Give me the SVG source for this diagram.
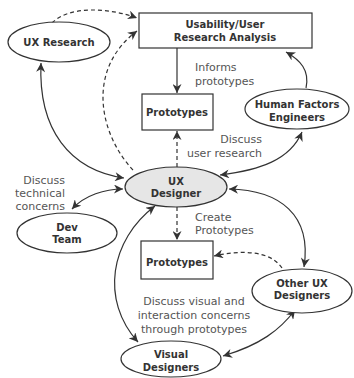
<svg xmlns="http://www.w3.org/2000/svg" width="354" height="378" viewBox="0 0 354 378">
  <defs>
    <marker id="arrow" viewBox="0 0 10 10" refX="10" refY="5" markerWidth="10" markerHeight="9" markerUnits="userSpaceOnUse" orient="auto-start-reverse">
      <path d="M0,0 L10,5 L0,10 L3,5 z" fill="#333"/>
    </marker>
  </defs>
  <style>
    .node { fill: #fff; stroke: #333; stroke-width: 1.2; }
    .focus { fill: #e6e6e6; }
    .title { font-family: "DejaVu Sans", Verdana, sans-serif; font-size: 10px; font-weight: bold; fill: #333; text-anchor: middle; }
    .note { font-family: "DejaVu Sans", Verdana, sans-serif; font-size: 11px; fill: #555; }
    .edge { fill: none; stroke: #333; stroke-width: 1.2; }
    .dash { stroke-dasharray: 4 3; }
  </style>
  <rect width="354" height="378" fill="#fff"/>

  <g id="connectors">
    <path class="edge dash" d="M52,23 C70,5 110,8 137,18" marker-end="url(#arrow)"/>
    <path class="edge dash" d="M133,170 C100,135 85,70 137,31" marker-end="url(#arrow)"/>
    <path class="edge" d="M177,48 L177,93" marker-end="url(#arrow)"/>
    <path class="edge" d="M306,88 C310,70 300,60 286,52" marker-end="url(#arrow)"/>
    <path class="edge dash" d="M177,167 L177,131" marker-end="url(#arrow)"/>
    <path class="edge" d="M220,175 C260,170 290,160 302,132" marker-start="url(#arrow)" marker-end="url(#arrow)"/>
    <path class="edge" d="M41,63 C38,130 70,170 124,178" marker-start="url(#arrow)" marker-end="url(#arrow)"/>
    <path class="edge" d="M72,209 C85,195 105,189 123,189" marker-start="url(#arrow)" marker-end="url(#arrow)"/>
    <path class="edge" d="M155,206 C110,240 100,300 138,342" marker-start="url(#arrow)" marker-end="url(#arrow)"/>
    <path class="edge dash" d="M177,207 L177,240" marker-end="url(#arrow)"/>
    <path class="edge" d="M229,189 C280,190 312,215 304,267" marker-start="url(#arrow)" marker-end="url(#arrow)"/>
    <path class="edge dash" d="M282,268 C270,250 240,250 214,256" marker-end="url(#arrow)"/>
    <path class="edge" d="M223,356 C260,345 280,330 295,310" marker-start="url(#arrow)" marker-end="url(#arrow)"/>
  </g>

  <g id="labels">
    <text class="note" x="195" y="71">Informs</text>
    <text class="note" x="195" y="85">prototypes</text>
    <text class="note" x="262" y="143" text-anchor="end">Discuss</text>
    <text class="note" x="262" y="157" text-anchor="end">user research</text>
    <text class="note" x="65" y="184" text-anchor="end">Discuss</text>
    <text class="note" x="65" y="197" text-anchor="end">technical</text>
    <text class="note" x="65" y="210" text-anchor="end">concerns</text>
    <text class="note" x="195" y="221">Create</text>
    <text class="note" x="195" y="234">Prototypes</text>
    <text class="note" x="194" y="305" text-anchor="middle">Discuss visual and</text>
    <text class="note" x="194" y="319" text-anchor="middle">interaction concerns</text>
    <text class="note" x="194" y="333" text-anchor="middle">through prototypes</text>
  </g>

  <g id="ux-research">
    <ellipse class="node" cx="59" cy="42" rx="51" ry="20"/>
    <text class="title" x="59" y="46">UX Research</text>
  </g>

  <g id="usability-analysis">
    <rect class="node" x="139" y="13" width="173" height="35"/>
    <text class="title" x="225" y="28">Usability/User</text>
    <text class="title" x="225" y="41">Research Analysis</text>
  </g>

  <g id="prototypes-top">
    <rect class="node" x="142" y="94" width="71" height="36"/>
    <text class="title" x="177" y="116">Prototypes</text>
  </g>

  <g id="human-factors">
    <ellipse class="node" cx="297" cy="109" rx="52" ry="20"/>
    <text class="title" x="297" y="108">Human Factors</text>
    <text class="title" x="297" y="121">Engineers</text>
  </g>

  <g id="ux-designer">
    <ellipse class="node focus" cx="176" cy="187" rx="51" ry="20"/>
    <text class="title" x="176" y="185">UX</text>
    <text class="title" x="176" y="197">Designer</text>
  </g>

  <g id="dev-team">
    <ellipse class="node" cx="67" cy="233" rx="50" ry="20"/>
    <text class="title" x="67" y="231">Dev</text>
    <text class="title" x="67" y="243">Team</text>
  </g>

  <g id="prototypes-bottom">
    <rect class="node" x="141" y="241" width="72" height="38"/>
    <text class="title" x="177" y="266">Prototypes</text>
  </g>

  <g id="other-ux-designers">
    <ellipse class="node" cx="302" cy="291" rx="50" ry="22"/>
    <text class="title" x="302" y="287">Other UX</text>
    <text class="title" x="302" y="299">Designers</text>
  </g>

  <g id="visual-designers">
    <ellipse class="node" cx="171" cy="359" rx="50" ry="18"/>
    <text class="title" x="171" y="358">Visual</text>
    <text class="title" x="171" y="371">Designers</text>
  </g>
</svg>
